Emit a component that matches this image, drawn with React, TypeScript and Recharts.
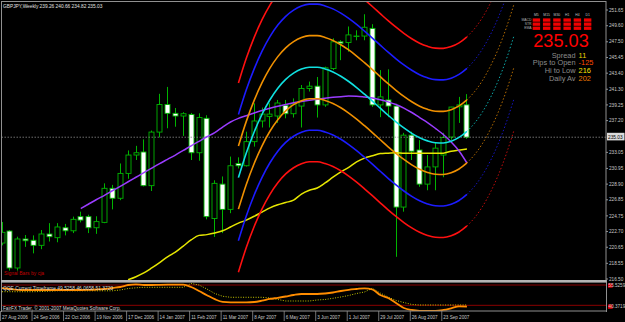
import React from 'react'
import { ComposedChart, Bar, Line, XAxis, YAxis, ReferenceLine } from 'recharts'

// weekly GBPJPY bars, 27 Aug 2006 .. 14 Oct 2007
const opens = [
  221.2, 222.77, 217.94, 221.73, 221.56, 220.9, 222.38, 221.9, 223.2, 222.8,
  224.65, 224.65, 223.2, 223.9, 228.35, 227.05, 230.3, 232.7, 233.1, 228.7,
  235.7, 239.3, 238.15, 237.8, 238.0, 233.0, 237.5, 224.4, 228.9, 225.6,
  231.6, 231.3, 234.45, 237.15, 237.75, 237.8, 239.2, 238.1, 239.1, 241.4,
  241.7, 239.25, 244.0, 247.5, 247.4, 248.25, 248.25, 249.25, 239.25, 239.9,
  239.1, 225.9, 235.3, 233.36, 228.9, 231.15, 232.7, 235.05, 239.0, 239.26,
]
const highs = [
  223.95, 222.9, 222.03, 222.25, 222.2, 222.9, 223.8, 223.8, 223.7, 224.65,
  225.3, 224.9, 224.7, 229.0, 228.8, 231.6, 233.3, 233.9, 234.75, 235.9,
  240.7, 241.6, 238.85, 238.3, 238.2, 238.15, 237.9, 229.4, 229.9, 232.5,
  232.4, 235.75, 239.45, 238.9, 239.45, 239.9, 239.9, 240.1, 241.85, 242.3,
  242.9, 244.25, 247.95, 247.7, 249.5, 249.0, 251.1, 249.8, 243.8, 243.9,
  239.4, 235.6, 235.75, 234.65, 232.7, 234.3, 235.6, 239.0, 240.3, 240.66,
]
const lows = [
  220.9, 217.6, 217.6, 220.7, 219.85, 220.4, 221.4, 221.3, 222.2, 222.5,
  223.9, 222.5, 222.4, 223.8, 225.6, 226.8, 229.6, 232.05, 228.6, 228.0,
  235.0, 236.2, 236.4, 235.2, 232.05, 231.95, 224.3, 222.0, 222.5, 225.1,
  230.95, 231.2, 233.8, 236.3, 236.3, 236.9, 237.5, 237.6, 236.3, 241.0,
  237.6, 239.0, 243.8, 245.1, 246.2, 247.7, 247.7, 239.0, 237.65, 237.65,
  219.4, 225.3, 232.05, 228.55, 228.1, 228.1, 229.8, 234.7, 236.9, 234.82,
]
const closes = [
  222.6, 217.94, 221.73, 221.5, 220.9, 222.38, 222.03, 223.3, 222.8, 224.3,
  224.2, 223.2, 224.0, 228.35, 227.05, 230.3, 232.7, 233.0, 228.7, 235.7,
  239.3, 238.15, 237.8, 238.1, 233.0, 237.6, 224.65, 229.0, 225.6, 231.3,
  231.3, 234.45, 237.15, 238.05, 238.05, 239.5, 238.1, 239.4, 241.4, 241.7,
  239.25, 244.1, 247.5, 247.3, 248.4, 248.25, 249.4, 239.25, 240.3, 239.1,
  225.9, 235.3, 233.2, 228.9, 231.15, 233.6, 235.0, 238.97, 239.26, 235.03,
]

// purple average, from bar 10
const trendStart = 10
const trendLine = [
  225.7, 226.3, 226.89, 227.44, 228.03, 228.61, 229.21, 229.8, 230.39, 230.99,
  231.58, 232.14, 232.7, 233.3, 233.91, 234.49, 235.09, 235.64, 236.36, 237.02,
  237.49, 237.84, 238.19, 238.52, 238.82, 239.08, 239.31, 239.52, 239.69, 239.85,
  239.99, 240.13, 240.24, 240.33, 240.4, 240.39, 240.29, 240.15, 239.93, 239.65,
  239.3, 238.84, 238.26, 237.6, 236.95, 236.19, 235.38, 234.4, 233.23, 231.66,
]
// yellow average, from bar 16
const slowStart = 16
const slowLine = [
  216.4, 216.8, 217.3, 217.95, 218.65, 219.4, 220.0, 220.8, 221.6, 222.2,
  222.3, 222.5, 222.8, 223.3, 223.8, 224.2, 224.7, 225.25, 225.8, 226.2,
  226.5, 226.8, 227.6, 228.1, 228.4, 229.05, 229.8, 230.5, 231.1, 231.8,
  232.3, 232.6, 232.9, 232.95, 233.0, 232.95, 232.95, 232.95, 232.95, 232.95,
  232.95, 233.2, 233.35, 233.5,
]
// regression channel middle, bars 30..65 (60..65 = projection)
const channelStart = 30
const lastBar = 59
const channelMid = [
  229.75, 232.98, 235.72, 238.03, 239.93, 241.44, 242.59, 243.4, 243.93, 244.18,
  244.18, 243.95, 243.56, 243.0, 242.31, 241.52, 240.65, 239.75, 238.82, 237.9,
  237.04, 236.24, 235.54, 234.96, 234.55, 234.31, 234.28, 234.51, 235.0, 235.79,
  236.9, 238.37, 240.23, 242.49, 245.21, 248.38,
]
const channelStep = 4.12
const bands = [3, 2, 1, 0, -1, -2, -3]
const bandColors: Record<string, string> = { '3': '#ff1010', '2': '#1c1cff', '1': '#f09000', '0': '#10e0e0' }

// QQE sub window
const qqeFast = [
  53.44, 53.04, 52.65, 52.55, 52.55, 52.55, 52.55, 52.55, 52.55, 52.55,
  52.55, 52.65, 52.8, 53.04, 53.54, 54.03, 55.01, 55.36, 55.01, 55.01,
  55.11, 55.16, 55.16, 55.16, 54.03, 52.06, 49.99, 48.02, 46.69, 46.49,
  46.49, 46.49, 46.64, 47.28, 48.12, 48.71, 49.35, 50.09, 50.58, 50.58,
  50.58, 50.83, 51.32, 52.06, 52.65, 53.04, 53.39, 52.8, 50.09, 48.61,
  46.15, 43.68, 42.7, 42.3, 42.25, 42.25, 42.7, 43.54, 44.52, 44.33,
]
const qqeSlow = [
  51.71, 51.71, 51.71, 51.71, 51.71, 51.81, 51.96, 52.16, 52.16, 52.16,
  52.16, 52.16, 52.16, 52.16, 52.16, 52.55, 53.29, 53.64, 53.88, 53.88,
  53.88, 53.88, 53.88, 53.88, 55.75, 55.01, 53.04, 50.83, 49.45, 48.96,
  48.96, 48.96, 48.96, 48.96, 48.61, 47.87, 47.13, 47.13, 47.13, 47.13,
  47.63, 47.87, 48.46, 49.1, 49.84, 50.83, 51.57, 53.39, 51.07, 49.1,
  47.38, 46.39, 45.41, 45.16, 45.16, 45.16, 45.16, 45.16, 45.16, 45.16,
]
const qqeLevels = [55, 45]

const dates = [
  '27 Aug 2006', '24 Sep 2006', '22 Oct 2006', '19 Nov 2006', '17 Dec 2006',
  '14 Jan 2007', '11 Feb 2007', '11 Mar 2007', '8 Apr 2007', '6 May 2007',
  '3 Jun 2007', '1 Jul 2007', '29 Jul 2007', '26 Aug 2007', '23 Sep 2007',
]
const priceTicks = [
  251.65, 249.6, 247.5, 245.45, 243.4, 241.3, 239.25, 237.2, 233.05,
  230.95, 228.9, 226.85, 224.75, 222.7, 220.65, 218.55, 216.5,
]
const lastPrice = 235.03

const stats = [
  { label: 'Spread', value: '11', color: '#e8d200' },
  { label: 'Pips to Open', value: '-125', color: '#ff4a00' },
  { label: 'Hi to Low', value: '216', color: '#ffe200' },
  { label: 'Daily Av', value: '202', color: '#f07800' },
]
const frames = ['M5', 'M15', 'M30', 'H1', 'H4', 'D1']
const signals = ['MACD', 'STR', 'EMA']

const rows = Array.from({ length: 66 }, (_, i) => {
  const row: Record<string, any> = { i }
  if (i < opens.length) {
    row.range = [lows[i], highs[i]]
    row.open = opens[i]
    row.high = highs[i]
    row.low = lows[i]
    row.close = closes[i]
    row.qqe = qqeFast[i]
    row.qqeSig = qqeSlow[i]
  }
  if (i >= trendStart && i < opens.length) row.trend = trendLine[i - trendStart]
  if (i >= slowStart && i < opens.length) row.slow = slowLine[i - slowStart]
  const m = channelMid[i - channelStart]
  if (m !== undefined) {
    bands.forEach((k) => {
      if (i <= lastBar) row['b' + k] = m + k * channelStep
      if (i >= lastBar) row['f' + k] = m + k * channelStep
    })
  }
  return row
})

const green = '#00b400'
const gray = '#909090'
const font = 'Liberation Sans, Arial, sans-serif'
const xDomain = [-0.13, 76.65]

function Candle(props: any) {
  const { x, y, width, height, payload } = props
  if (payload.high == null) return null
  const top = Math.min(y, y + height)
  const span = Math.abs(height)
  const k = payload.high === payload.low ? 0 : span / (payload.high - payload.low)
  const cx = Math.round(x + width / 2) + 0.5
  const y1 = top + (payload.high - Math.max(payload.open, payload.close)) * k
  const y2 = top + (payload.high - Math.min(payload.open, payload.close)) * k
  const bear = payload.close < payload.open
  return (
    <g>
      <line x1={cx} x2={cx} y1={top} y2={top + span} stroke={green} />
      <rect
        x={cx - 2.5}
        y={y1}
        width={5}
        height={Math.max(y2 - y1, 0.5)}
        fill={bear ? '#ffffff' : '#000000'}
        stroke={green}
        strokeWidth={0.9}
      />
    </g>
  )
}

function DateTick(props: any) {
  const { x, y, payload } = props
  const label = dates[payload.value / 4]
  return (
    <g>
      <line x1={x - 1.5} x2={x - 1.5} y1={y} y2={y + 10} stroke={gray} strokeWidth={0.8} />
      <text x={x} y={y + 7.5} fill="#c8c8c8" fontSize={4.6} fontFamily={font}>
        {label}
      </text>
    </g>
  )
}

export default function App() {
  return (
    <div style={{ position: 'absolute', left: 0, top: 0, width: 625, height: 322, background: '#000', overflow: 'hidden' }}>
      <div style={{ position: 'absolute', left: 0, top: 0 }}>
        <ComposedChart width={625} height={281} data={rows} margin={{ top: 1, right: 0, bottom: 1, left: 1 }}>
          <XAxis type="number" dataKey="i" domain={xDomain} hide allowDataOverflow />
          <YAxis
            orientation="right"
            width={19}
            domain={[216.37, 252.83]}
            allowDataOverflow
            ticks={priceTicks}
            interval={0}
            tickFormatter={(v: number) => v.toFixed(2)}
            tick={{ fill: '#c8c8c8', fontSize: 4.7, fontFamily: font }}
            tickSize={2}
            tickMargin={1}
            axisLine={{ stroke: gray }}
            tickLine={{ stroke: gray }}
          />
          <ReferenceLine y={lastPrice} stroke="#8a8a8a" strokeDasharray="1.5 1.5" strokeWidth={0.8} />
          <Bar dataKey="range" barSize={5} shape={<Candle />} isAnimationActive={false} />
          <Line dataKey="slow" type="monotone" stroke="#e6e600" strokeWidth={1.5} dot={false} isAnimationActive={false} />
          <Line dataKey="trend" type="monotone" stroke="#9a3cff" strokeWidth={1.5} dot={false} isAnimationActive={false} />
          {bands.map((k) => (
            <Line
              key={'b' + k}
              dataKey={'b' + k}
              type="monotone"
              stroke={bandColors[String(Math.abs(k))]}
              strokeWidth={1.6}
              dot={false}
              isAnimationActive={false}
            />
          ))}
          {bands.map((k) => (
            <Line
              key={'f' + k}
              dataKey={'f' + k}
              type="monotone"
              stroke={bandColors[String(Math.abs(k))]}
              strokeOpacity={0.75}
              strokeWidth={1}
              strokeDasharray="1.5 2"
              dot={false}
              isAnimationActive={false}
            />
          ))}
        </ComposedChart>
      </div>
      <div style={{ position: 'absolute', left: 0, top: 281 }}>
        <ComposedChart width={625} height={41} data={rows} margin={{ top: 2, right: 19, bottom: 0, left: 1 }}>
          <XAxis
            type="number"
            dataKey="i"
            domain={xDomain}
            allowDataOverflow
            height={11}
            ticks={dates.map((_, k) => k * 4)}
            interval={0}
            tick={<DateTick />}
            tickSize={0}
            tickMargin={0}
            tickLine={false}
            axisLine={{ stroke: gray }}
          />
          <YAxis hide domain={[42.2, 56]} allowDataOverflow />
          {qqeLevels.map((v) => (
            <ReferenceLine key={v} y={v} stroke="#9a0000" strokeWidth={0.9} />
          ))}
          <Line dataKey="qqeSig" type="linear" stroke="#c8c800" strokeWidth={1} strokeDasharray="1 1.5" dot={false} isAnimationActive={false} />
          <Line dataKey="qqe" type="monotone" stroke="#ff8c00" strokeWidth={1.8} dot={false} isAnimationActive={false} />
        </ComposedChart>
      </div>
      <svg width={625} height={322} style={{ position: 'absolute', left: 0, top: 0, pointerEvents: 'none' }} fontFamily={font}>
        <line x1={1.5} x2={1.5} y1={1} y2={312} stroke={gray} />
        <line x1={1} x2={606} y1={1.5} y2={1.5} stroke={gray} />
        <line x1={606.5} x2={606.5} y1={280} y2={312} stroke={gray} />
        <rect x={1} y={280} width={605.5} height={2.6} fill="#b4b4b4" />

        <text x={3} y={7.5} fill="#e0e0e0" fontSize={4.8}>GBPJPY,Weekly  239.26 240.66 234.82 235.03</text>
        <text x={4} y={274.5} fill="#c00000" fontSize={5}>Signal Bars by cja</text>
        <text x={3} y={289.5} fill="#d8d8d8" fontSize={4.9}>QQE Current Timeframe 49.5258 46.0658 51.3720</text>
        <text x={3} y={310.2} fill="#d8d8d8" fontSize={4.7}>FairFX Trader, © 2001-2007 MetaQuotes Software Corp.</text>

        <rect x={607} y={132.8} width={17.5} height={7.6} fill="#dcdcdc" />
        <text x={608} y={138.6} fill="#000" fontSize={4.8}>{lastPrice.toFixed(2)}</text>

        <rect x={608} y={283.3} width={4.6} height={4.4} fill="#e00000" />
        <text x={608.6} y={287.3} fill="#c8c8c8" fontSize={4.6}>55.5259</text>
        <rect x={608} y={304.4} width={4.6} height={4.4} fill="#e00000" />
        <text x={608.6} y={308.4} fill="#c8c8c8" fontSize={4.6}>40.3719</text>

        {frames.map((f, c) => (
          <text key={f} x={536.4 + c * 10.25} y={16.3} fill="#c0c0c0" fontSize={3.4} textAnchor="middle">{f}</text>
        ))}
        {signals.map((s, r) => (
          <g key={s}>
            <text x={531.5} y={21.2 + r * 4.1} fill="#b0b0b0" fontSize={3.4} textAnchor="end">{s}</text>
            {frames.map((f, c) => (
              <rect key={f} x={532.7 + c * 10.25} y={18.4 + r * 4.1} width={7.4} height={3.3} fill="#f00000" />
            ))}
          </g>
        ))}
        <text x={561} y={47} fill="#ff0000" fontSize={18.2} textAnchor="middle">235.03</text>
        {stats.map((s, r) => (
          <g key={s.label}>
            <text x={575.5} y={57.6 + r * 7.8} fill="#8c8c8c" fontSize={7.4} textAnchor="end">{s.label}</text>
            <text x={578.6} y={57.6 + r * 7.8} fill={s.color} fontSize={7.4}>{s.value}</text>
          </g>
        ))}
      </svg>
    </div>
  )
}
